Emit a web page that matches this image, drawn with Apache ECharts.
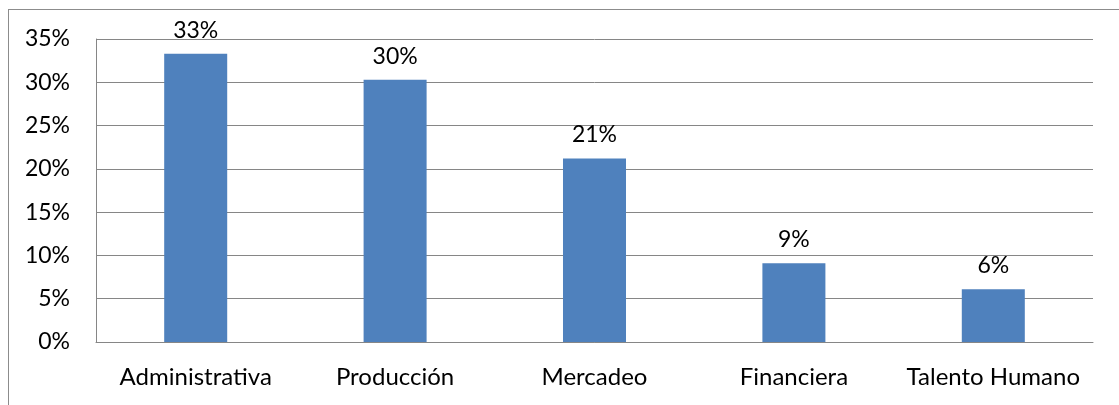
<!DOCTYPE html>
<html>
<head>
<meta charset="utf-8">
<script src="https://cdn.jsdelivr.net/npm/echarts@6/dist/echarts.min.js"></script>
<style>
  html, body { margin: 0; padding: 0; background: #fff; }
  #frame { position: absolute; left: 8px; top: 9px; width: 1200px; height: 500px; border: 1px solid #8c8c8c; box-sizing: border-box; }
  #chart { position: absolute; left: 0; top: 0; width: 1119px; height: 405px; }
</style>
</head>
<body>
<div id="frame"></div>
<div id="chart"></div>
<script>
// Areas and their share of responses (%)
const categories = ['Administrativa', 'Producción', 'Mercadeo', 'Financiera', 'Talento Humano'];
const shares = [33.3, 30.3, 21.2, 9.1, 6.1];
const yTicks = [0, 5, 10, 15, 20, 25, 30, 35];

const FONT = 'Lato';
const chart = echarts.init(document.getElementById('chart'), null, { renderer: 'canvas' });
chart.setOption({
  animation: false,
  grid: { left: 96, right: 26, top: 39, bottom: 63, containLabel: false },
  xAxis: {
    type: 'category',
    data: categories,
    axisLine: { show: true, lineStyle: { color: '#868686', width: 1 } },
    axisTick: { show: false },
    axisLabel: { color: '#000', fontFamily: FONT, fontSize: 24, margin: 23, interval: 0 }
  },
  yAxis: {
    type: 'value',
    min: yTicks[0],
    max: yTicks[yTicks.length - 1],
    interval: 5,
    axisLine: { show: true, lineStyle: { color: '#868686', width: 1 } },
    axisTick: { show: false },
    splitLine: { show: true, lineStyle: { color: '#868686', width: 1 } },
    axisLabel: { color: '#000', fontFamily: FONT, fontSize: 23, margin: 26, formatter: v => v + '%' }
  },
  series: [{
    type: 'bar',
    data: shares,
    barWidth: '31.6%',
    itemStyle: { color: '#4F81BD' },
    label: {
      show: true,
      position: 'top',
      distance: 12,
      color: '#000',
      fontFamily: FONT,
      fontSize: 23,
      formatter: p => Math.round(p.value) + '%'
    }
  }]
});
</script>
</body>
</html>
